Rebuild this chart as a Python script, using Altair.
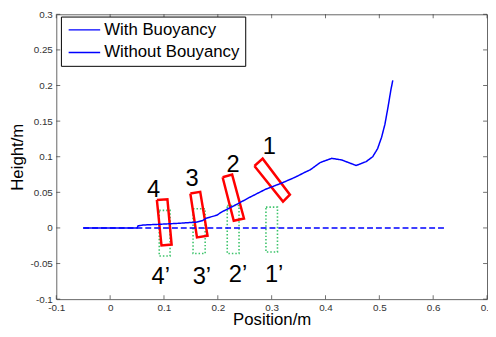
import altair as alt
import pandas as pd

# ---- data ----
with_x = [-0.05, 0.05, 0.052, 0.062, 0.088, 0.125, 0.161, 0.172, 0.18, 0.198, 0.207,
          0.2345, 0.259, 0.289, 0.32, 0.3445, 0.3627, 0.372, 0.39, 0.4115, 0.43, 0.457,
          0.4756, 0.4877, 0.4968, 0.5042, 0.5104, 0.5164, 0.5214, 0.525]
with_y = [0.0, 0.0, 0.003, 0.0041, 0.005, 0.0064, 0.0082, 0.0105, 0.014, 0.0178, 0.0223,
          0.0329, 0.0429, 0.0544, 0.0634, 0.0715, 0.0785, 0.0818, 0.0918, 0.0977, 0.0955, 0.0877,
          0.0932, 0.1, 0.1114, 0.1274, 0.1456, 0.1708, 0.1936, 0.2073]
without_x = [-0.05, 0.625]
without_y = [0.0, 0.0]
series = ["With Buoyancy", "Without Bouyancy"]
dash_kind = ["solid", "dashed"]

# red (tilted) rectangles: corner lists
red_ids = ["1", "2", "3", "4"]
red_x = [[0.268, 0.2833, 0.3339, 0.3211],
         [0.2089, 0.2266, 0.2486, 0.2296],
         [0.149, 0.1673, 0.1809, 0.1613],
         [0.0868, 0.1064, 0.1142, 0.0954]]
red_y = [[0.087, 0.0973, 0.0466, 0.037],
         [0.0712, 0.0749, 0.0133, 0.010],
         [0.0484, 0.0507, -0.011, -0.0133],
         [0.0393, 0.0401, -0.0233, -0.0247]]

# green dotted rectangles
green_x1 = [0.2894, 0.2175, 0.154, 0.0912]
green_x2 = [0.3108, 0.2394, 0.1765, 0.1113]
green_y1 = [-0.0338, -0.036, -0.036, -0.0393]
green_y2 = [0.0292, 0.0315, 0.027, 0.0247]

# annotation labels
lab_text = ["1", "2", "3", "4", "1\u2019", "2\u2019", "3\u2019", "4\u2019"]
lab_x = [0.2955, 0.2285, 0.152, 0.0807, 0.3046, 0.2376, 0.1704, 0.0941]
lab_y = [0.1137, 0.0886, 0.068, 0.053, -0.0667, -0.0667, -0.0689, -0.0689]

x_ticks = [-0.1, 0.0, 0.1, 0.2, 0.3, 0.4, 0.5, 0.6, 0.7]
y_ticks = [-0.1, -0.05, 0.0, 0.05, 0.1, 0.15, 0.2, 0.25, 0.3]

# ---- tables ----
lines = pd.DataFrame(
    [{"x": a, "y": b, "s": series[0], "d": dash_kind[0]} for a, b in zip(with_x, with_y)]
    + [{"x": a, "y": b, "s": series[1], "d": dash_kind[1]} for a, b in zip(without_x, without_y)]
)
red_rows = []
for rid, xs, ys in zip(red_ids, red_x, red_y):
    for i, (a, b) in enumerate(list(zip(xs, ys)) + [(xs[0], ys[0])]):
        red_rows.append({"id": rid, "o": i, "x": a, "y": b})
red = pd.DataFrame(red_rows)
green = pd.DataFrame({"x": green_x1, "x2": green_x2, "y": green_y1, "y2": green_y2})
labels = pd.DataFrame({"t": lab_text, "x": lab_x, "y": lab_y})
xt = pd.DataFrame({"v": x_ticks})
yt = pd.DataFrame({"v": y_ticks})

W, H = 437, 289
FONT = "Liberation Sans"
LABEL_EXPR = "datum.value < 0 ? '-' + format(-datum.value, '.2~f') : format(datum.value, '.2~f')"
xscale = alt.Scale(domain=[-0.1, 0.7], nice=False, zero=False, padding=0)
yscale = alt.Scale(domain=[-0.1, 0.3], nice=False, zero=False, padding=0)
xaxis = alt.Axis(values=x_ticks, title="Position/m", ticks=False, domain=False, grid=False,
                 labelFlush=False, labelOverlap=False,
                 labelFont=FONT, labelFontSize=10, labelColor="#333", labelPadding=4,
                 labelExpr=LABEL_EXPR,
                 titleFont=FONT, titleFontSize=17, titleFontWeight="normal", titleColor="black",
                 titleBaseline="alphabetic", titleY=26)
yaxis = alt.Axis(values=y_ticks, title="Height/m", ticks=False, domain=False, grid=False,
                 labelFlush=False, labelOverlap=False,
                 labelFont=FONT, labelFontSize=10, labelColor="#333", labelPadding=4,
                 labelExpr=LABEL_EXPR,
                 titleFont=FONT, titleFontSize=17, titleFontWeight="normal", titleColor="black",
                 titleBaseline="alphabetic", titleX=-34, titleY=H / 2, titleAngle=-90)


def X(f):
    return alt.X(f, type="quantitative", scale=xscale, axis=xaxis)


def Y(f):
    return alt.Y(f, type="quantitative", scale=yscale, axis=yaxis)


green_layer = alt.Chart(green).mark_rect(
    fillOpacity=0, stroke="#3cc36a", strokeWidth=1.6, strokeDash=[1.5, 2]
).encode(x=X("x"), x2="x2", y=Y("y"), y2="y2")

red_layer = alt.Chart(red).mark_line(color="#ff0000", strokeWidth=2.5, strokeJoin="miter").encode(
    x=X("x"), y=Y("y"), detail="id:N", order="o:Q"
)

line_layer = alt.Chart(lines).mark_line(strokeWidth=1.5).encode(
    x=X("x"), y=Y("y"),
    color=alt.Color("s:N", scale=alt.Scale(domain=series, range=["#0000ff", "#0000ff"]),
                    legend=alt.Legend(title=None, orient="none", legendX=4.7, legendY=2.3,
                                      strokeColor="black", fillColor="white", padding=5,
                                      cornerRadius=0,
                                      symbolType="M-0.81,0H3.76", symbolSize=196,
                                      symbolStrokeWidth=1.5,
                                      labelFont=FONT, labelFontSize=17, labelColor="black",
                                      labelOffset=22, rowPadding=5, labelLimit=300)),
    strokeDash=alt.StrokeDash("d:N", scale=alt.Scale(domain=dash_kind, range=[[1, 0], [6, 3]]),
                              legend=None),
)

text_layer = alt.Chart(labels).mark_text(font=FONT, fontSize=24, color="black",
                                         align="center", baseline="middle").encode(
    x=X("x"), y=Y("y"), text="t:N"
)

tick_style = dict(color="#333", thickness=1, size=4)
top_ticks = alt.Chart(xt).mark_tick(orient="vertical", **tick_style).encode(x=X("v"), y=alt.value(2))
bot_ticks = alt.Chart(xt).mark_tick(orient="vertical", **tick_style).encode(x=X("v"), y=alt.value(H - 2))
left_ticks = alt.Chart(yt).mark_tick(orient="horizontal", **tick_style).encode(y=Y("v"), x=alt.value(2))
right_ticks = alt.Chart(yt).mark_tick(orient="horizontal", **tick_style).encode(y=Y("v"), x=alt.value(W - 2))

chart = alt.layer(
    green_layer, red_layer, line_layer, text_layer, top_ticks, bot_ticks, left_ticks, right_ticks
).properties(
    width=W, height=H,
    autosize=alt.AutoSizeParams(type="none"),
    padding={"left": 49, "top": 4, "right": 1, "bottom": 35},
).configure_view(stroke="#666", strokeWidth=1)

chart.save("out.html", embed_options={"renderer": "svg", "actions": False})
